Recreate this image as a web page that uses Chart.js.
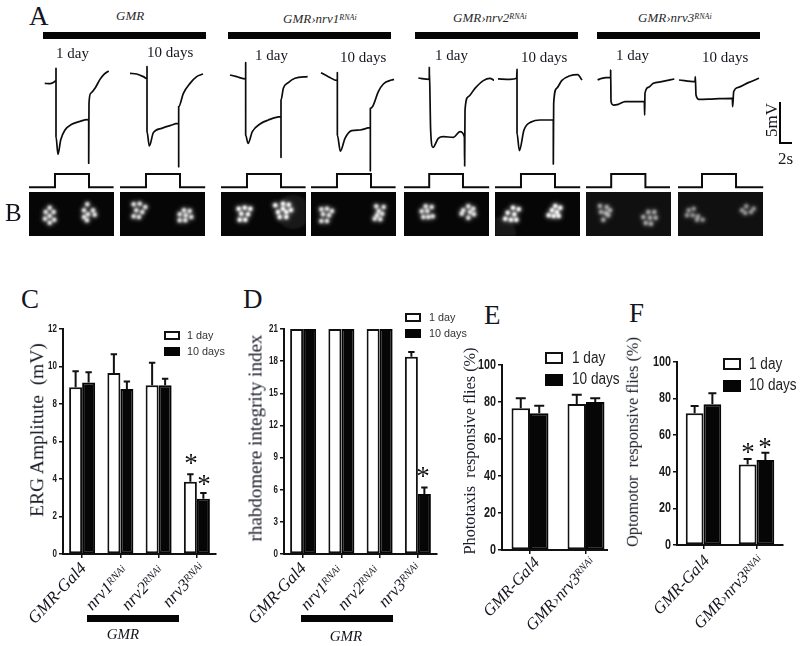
<!DOCTYPE html>
<html><head><meta charset="utf-8">
<script src="https://cdn.jsdelivr.net/npm/chart.js@4"></script>
<style>
html,body{margin:0;padding:0;background:#fff;width:800px;height:646px;overflow:hidden}
#fig{position:relative;width:800px;height:646px;overflow:hidden}
#fig canvas{position:absolute}
.t{position:absolute;white-space:pre;line-height:1;color:#15151f;font-family:"Liberation Serif",serif}
.r{position:absolute;background:#050505}
sup{font-size:.62em;vertical-align:baseline;position:relative;top:-.42em;line-height:0}
</style></head><body><div id="fig"></div>
<script>
// ---------- Panel C ----------
const catsC=["GMR-Gal4","nrv1","nrv2","nrv3"];
const ergDay1=[8.9,9.65,9.0,3.85];
const ergDay1Err=[0.85,1.0,1.2,0.4];
const ergDay10=[9.15,8.8,9.0,2.95];
const ergDay10Err=[0.55,0.4,0.35,0.3];
// ---------- Panel D ----------
const rhabDay1=[21,21,21,18.4];
const rhabDay1Err=[0,0,0,0.45];
const rhabDay10=[21,21,21,5.6];
const rhabDay10Err=[0,0,0,0.6];
// ---------- Panel E ----------
const catsE=["GMR-Gal4","GMR>nrv3"];
const photoDay1=[76.7,79];
const photoDay1Err=[5.3,5];
const photoDay10=[74,80];
const photoDay10Err=[4,2];
// ---------- Panel F ----------
const optoDay1=[72,44];
const optoDay1Err=[4,3];
const optoDay10=[77,46.4];
const optoDay10Err=[6,4];
// ---------- Panel A: ERG traces, [seconds, mV] ----------
const traceGmr1=[[2.62,-.42],[3.5,-.46],[4.17,-.25],[4.5,-.08],[4.5,1.46],[4.5,-7.08],[4.83,-9.29],[5.28,-7.5],[6,-6.25],[7.12,-5.54],[8.5,-5.17],[9.72,-4.96],[9.95,-5],[9.95,-10.4],[10,-2.92],[10.28,-1.67],[11,-1.04],[11.83,.08],[12.5,.71],[13.28,1.12]];
const traceGmr10=[[1.67,.83],[2.78,.75],[3.89,.42],[4.5,.17],[4.5,1.67],[4.5,-6.46],[4.89,-8.25],[5.56,-6.58],[6.94,-6.04],[8.33,-5.71],[9.67,-5.42],[9.78,-5.42],[9.78,-10.83],[9.78,-3.33],[10.56,-1.67],[11.67,-.42],[12.78,.42],[13.83,.75]];
const traceNrv1a=[[1.5,.63],[2.61,.42],[4.11,.13],[4.11,2.17],[4.11,-6.88],[4.5,-7.92],[5.22,-6.46],[6.5,-5.5],[7.89,-5],[9.94,-4.58],[10,-4.58],[10,-9.67],[10,-2.5],[10.39,-1.04],[11.22,-.33],[12.33,.21],[14.44,.42]];
const traceNrv1b=[[1.67,.92],[2.89,.42],[4.39,-.08],[4.39,.92],[4.39,-6.88],[4.89,-8.88],[5.67,-7.29],[6.78,-6.33],[8.17,-6.25],[9.83,-5.96],[9.89,-5.96],[9.89,-11.33],[9.89,-3.54],[10.39,-3.13],[11.22,-1.46],[12.06,-.5],[13.44,0],[13.83,.08]];
const traceNrv2a=[[2.39,.25],[4.22,.08],[4.22,1.58],[4.44,-6.25],[4.83,-8.42],[5.72,-7.29],[6.56,-7.08],[8.22,-7.17],[9.33,-6.46],[10.06,-7.08],[10.11,-10.75],[10.17,-3.75],[10.72,-2.08],[11.83,-1.04],[13.22,-.08],[14.33,.21],[15,-.05]];
const traceNrv2b=[[.5,.13],[2.5,.08],[3.61,.21],[3.67,1.33],[3.67,-6.67],[4.06,-8.83],[4.83,-6.25],[6.11,-5.21],[7.5,-5],[9.72,-5],[9.72,-10.5],[9.78,-2.92],[10.28,-1.04],[11.11,-.08],[12.5,.54],[13.78,.67],[14.5,0]];
const traceNrv3a=[[1.94,0],[2.61,.21],[4.11,.33],[4.11,1.25],[4.17,-2.71],[4.56,-3.13],[5.39,-3.04],[6.5,-2.71],[9.72,-2.67],[9.78,-4.38],[9.83,-1.67],[10.39,-.92],[11.22,-.42],[12.61,-.21],[14.72,.13]];
const traceNrv3b=[[.17,0],[2.83,-.21],[2.89,.42],[3,-1.88],[3.5,-2.42],[5.61,-2.38],[9.06,-2.29],[9.11,-3.33],[9.28,-1.46],[10.06,-.92],[11.72,-.33],[13.5,.21]];
const lightOn=[4.33,4.33,4.33,4.33,4.2,4.33,4.2,4];
const lightOff=[10,10,10,10,9.83,10,9.9,9.67];
const stimLow=-13.4, stimHigh=-11.75, stimEnd=[14.1,14.2,14.1,14.1,14.2,14.2,14,14.2];
// ---------- Panel B: ommatidia spots, [x, y] in panel units ----------
const spotsGmr1=[[20.7,15.7],[16.7,20],[24.7,20],[20.7,24],[16,26.7],[25.3,27.7],[20.7,30.7],[58.3,12.3],[55,18.3],[64,18.3],[59,22.3],[55,25],[65.7,22.7],[58,28.3]];
const spotsGmr10=[[13.7,12.3],[19.7,11.7],[25.3,15],[16.3,18.3],[22.3,20],[13.7,24.3],[19,25],[64,18.3],[69.7,19],[59.7,22.3],[65.7,23.3],[71.3,25],[59.7,28.3],[65.3,28.3]];
const spotsNrv1a=[[17.7,16.7],[23.7,15.7],[29.3,16.7],[20.3,21.7],[27,22.3],[18.7,27.7],[24.3,27.7],[54.3,13.3],[62,11.7],[67.7,12.7],[57,20],[65.3,20],[58.7,25],[65.3,25],[62,16.7],[70,18]];
const spotsNrv1b=[[10.3,17.3],[16,16.7],[21,19],[12,22.3],[18,23.3],[10.3,29],[16,29],[65.3,14.3],[72.7,15],[67.7,19],[66,23.3],[71.3,21.7],[63.7,26.7],[69.3,27.3]];
const spotsNrv2a=[[21.7,14.3],[27.7,15],[17.7,19.3],[23.3,19],[28.7,24.3],[19.3,25],[24.3,25],[64.3,14.3],[69.3,16.7],[59.3,18.3],[66,20],[57.7,21.7],[64.3,25.7],[70,22.3]];
const spotsNrv2b=[[18,15.7],[23.7,17.3],[12.7,20.7],[19.3,22.3],[10.3,26.7],[16,27.7],[21.3,27.7],[60.3,14],[65.3,15.7],[57,18.3],[62,20],[53.7,23.3],[58.7,24],[63.7,24]];
const spotsNrv3a=[[14,14],[20.7,15],[15,20],[19.7,21],[24,18.3],[17.3,27.7],[22.3,23.3],[62.3,20],[68.3,20],[57.3,25],[64,25.7],[69.7,25.7],[59.7,31],[65,31.7]];
const spotsNrv3b=[[10.7,18.3],[15.7,16.7],[9,23.3],[14.7,23.3],[20,24.3],[24.7,27.7],[19,27.7],[68.3,14.3],[73,20],[67.3,21],[64,18.3],[75.7,16.7]];
const spotLevel=[.85,.85,1,.85,.85,1,.55,.45];
const hazeNrv1a=[[72,20]];
const hazeNrv2b=[[4,42]];

const traces=[traceGmr1,traceGmr10,traceNrv1a,traceNrv1b,traceNrv2a,traceNrv2b,traceNrv3a,traceNrv3b];
const spots=[spotsGmr1,spotsGmr10,spotsNrv1a,spotsNrv1b,spotsNrv2a,spotsNrv2b,spotsNrv3a,spotsNrv3b];
const hazes=[[],[],hazeNrv1a,[],[],hazeNrv2b,[],[]];

const fig=document.getElementById('fig');
Chart.defaults.animation=false;
Chart.defaults.animations=false;
Chart.defaults.responsive=false;
Chart.defaults.devicePixelRatio=1;
Chart.defaults.plugins.legend.display=false;
Chart.defaults.plugins.tooltip.enabled=false;
Chart.defaults.events=[];

function cv(l,t,w,h,parent){const c=document.createElement('canvas');c.width=w;c.height=h;c.style.left=l+'px';c.style.top=t+'px';(parent||fig).appendChild(c);return c;}
function text(html,x,y,o={}){
  const d=document.createElement('div');d.className='t';d.innerHTML=html;
  d.style.left=x+'px';d.style.top=y+'px';
  d.style.fontSize=(o.size||14)+'px';
  if(o.italic)d.style.fontStyle='italic';
  if(o.family)d.style.fontFamily=o.family;
  if(o.color)d.style.color=o.color;
  const ax=o.anchor==='end'?'-100%':o.anchor==='middle'?'-50%':'0';
  let tf=`translate(${ax},-50%)`;
  if(o.rot){tf+=` rotate(${o.rot}deg)`;d.style.transformOrigin=o.anchor==='end'?'100% 50%':'50% 50%';}
  if(o.sx){tf+=` scaleX(${o.sx})`;d.style.transformOrigin='0 50%';}
  d.style.transform=tf;
  fig.appendChild(d);return d;
}
function rect(x,y,w,h,o={}){const d=document.createElement('div');d.className='r';d.style.cssText=`left:${x}px;top:${y}px;width:${w}px;height:${h}px;`+(o.css||'');fig.appendChild(d);return d;}

// ---- Panels A: traces + stimulus; B: spots
const panelLeft=[29,120,221,311,404,495,586,678];
traces.forEach((tr,i)=>{
  const on=lightOn[i],off=lightOff[i],end=stimEnd[i];
  const stim=[[0,stimLow],[on,stimLow],[on,stimHigh],[off,stimHigh],[off,stimLow],[end,stimLow]];
  const pad=3;
  const c=cv(panelLeft[i]-pad,55-pad,90+2*pad,140+2*pad);
  c.style.filter='blur(0.35px)';
  new Chart(c,{type:'line',
    data:{datasets:[
      {data:tr,borderColor:'#0c0c0c',borderWidth:1.7,pointRadius:0,cubicInterpolationMode:'monotone',borderJoinStyle:'round'},
      {data:stim,borderColor:'#0c0c0c',borderWidth:2,pointRadius:0,tension:0}
    ]},
    options:{layout:{padding:pad},scales:{
      x:{type:'linear',display:false,min:0,max:15},
      y:{type:'linear',display:false,min:-14.375,max:3.125}}}});
});
spots.forEach((sp,i)=>{
  const pad=20;
  const box=rect(panelLeft[i],192,85,44,{css:`overflow:hidden;background:${i>=6?'#101010':'#060606'}`});
  const c=cv(-pad,-pad,85+2*pad,44+2*pad,box);
  c.style.filter='blur(0.8px)';
  const lv=spotLevel[i];
  new Chart(c,{type:'scatter',
    data:{datasets:[
      {data:sp,pointRadius:2.2,pointBackgroundColor:`rgba(255,255,255,${lv})`,pointBorderWidth:0},
      {data:sp,pointRadius:3.8,pointBackgroundColor:`rgba(190,190,190,${.3*lv})`,pointBorderWidth:0},
      {data:sp,pointRadius:6.5,pointBackgroundColor:`rgba(170,170,170,${.07*lv})`,pointBorderWidth:0},
      {data:hazes[i],pointRadius:17,pointBackgroundColor:'rgba(150,150,150,.13)',pointBorderWidth:0}
    ]},
    options:{layout:{padding:pad},scales:{
      x:{type:'linear',display:false,min:0,max:85},
      y:{type:'linear',display:false,min:0,max:44,reverse:true}}}});
});

// ---- Bar charts
const errorBars={id:'errorBars',afterDatasetsDraw(chart,args,opts){
  const {ctx}=chart,yS=chart.scales.y;
  ctx.save();ctx.strokeStyle='#111';ctx.lineWidth=2;
  chart.data.datasets.forEach((ds,i)=>{
    const m=chart.getDatasetMeta(i);
    ds.errors.forEach((e,j)=>{
      if(!e)return;
      const x=m.data[j].x,y0=yS.getPixelForValue(ds.data[j]),y1=yS.getPixelForValue(ds.data[j]+e);
      ctx.beginPath();ctx.moveTo(x,y0);ctx.lineTo(x,y1);
      ctx.moveTo(x-opts.cap,y1);ctx.lineTo(x+opts.cap,y1);ctx.stroke();
    });
  });
  if(opts.axisEnd){const a=chart.chartArea;ctx.beginPath();ctx.moveTo(a.left-1,a.bottom);ctx.lineTo(opts.axisEnd-chart.canvas.offsetLeft,a.bottom);ctx.stroke();}
  // condensed bold y tick labels, taken from the scale's own ticks
  ctx.fillStyle='#1a1a1a';ctx.textAlign='right';ctx.textBaseline='middle';
  ctx.font=`bold ${opts.tick}px "Liberation Sans",sans-serif`;
  yS.ticks.forEach((t,k)=>{
    ctx.save();ctx.translate(yS.right-6,yS.getPixelForTick(k));ctx.scale(.8,1.02);
    ctx.fillText(String(t.value),0,0);ctx.restore();
  });
  ctx.restore();
}};
function barChart(b){
  const L=b.left-42,T=b.top-10,W=b.right-L+2,H=b.bottom-T+10;
  new Chart(cv(L,T,W,H),{type:'bar',plugins:[errorBars],
    data:{labels:b.cats,datasets:[
      {data:b.a,errors:b.ae,backgroundColor:'#fff',borderColor:'#111',borderWidth:2,borderSkipped:false},
      {data:b.b,errors:b.be,backgroundColor:'#060606',borderColor:'#060606',borderWidth:2,borderSkipped:false}
    ]},
    options:{
      layout:{padding:{top:10,right:2,left:0,bottom:0}},
      datasets:{bar:{categoryPercentage:b.cp,barPercentage:1}},
      plugins:{errorBars:{cap:b.cap,axisEnd:b.axisEnd,tick:b.tick}},
      scales:{
        x:{type:'category',
          border:{display:!b.axisEnd,color:'#111',width:2},
          grid:{offset:false,drawOnChartArea:false,drawTicks:true,tickLength:4,color:'#111',lineWidth:1.5},
          ticks:{callback:()=>'',padding:0},
          afterFit(s){s.height=10;}},
        y:{type:'linear',min:0,max:b.max,
          border:{color:'#111',width:2},
          grid:{drawOnChartArea:false,drawTicks:true,tickLength:4,color:'#111',lineWidth:1.5},
          ticks:{stepSize:b.step,autoSkip:false,color:'rgba(0,0,0,0)',font:{size:b.tick}},
          afterFit(s){s.width=42;}}
      }}});
}
barChart({left:63,right:216,top:329,bottom:554,cats:catsC,a:ergDay1,ae:ergDay1Err,b:ergDay10,be:ergDay10Err,max:12,step:2,cp:.68,cap:3.2,tick:10});
barChart({left:284,right:437,top:329,bottom:554,cats:catsC,a:rhabDay1,ae:rhabDay1Err,b:rhabDay10,be:rhabDay10Err,max:21,step:3,cp:.68,cap:3.2,tick:10});
barChart({left:502,right:614,top:364,bottom:551,cats:catsE,a:photoDay1,ae:photoDay1Err,b:photoDay10,be:photoDay10Err,max:100,step:20,cp:.66,cap:5,tick:13.5,axisEnd:608});
barChart({left:677,right:783,top:361,bottom:546,cats:catsE,a:optoDay1,ae:optoDay1Err,b:optoDay10,be:optoDay10Err,max:100,step:20,cp:.67,cap:4,tick:13.5});

// ---- Annotations
[[43,163],[228,163],[415,163],[597,163]].forEach(([x,w])=>rect(x,32,w,7));
rect(87,615,92,7);rect(301,615,92,7);
const rna=n=>`GMR›nrv${n}<sup>RNAi</sup>`;
const hdr={size:13,italic:true,color:'#2a2a2a'};
text('GMR',116,15,hdr);
text(rna(1),283,18,hdr);
text(rna(2),453,17,hdr);
text(rna(3),638,17,hdr);
[[56,53,'1 day'],[147,52,'10 days'],[255,55,'1 day'],[340,57,'10 days'],[435,55,'1 day'],[521,57,'10 days'],[616,55,'1 day'],[702,57,'10 days']]
 .forEach(([x,y,s])=>text(s,x,y,{size:15}));
[['A',29,16,27],['B',5,212,25],['C',21,299,27],['D',243,299,27],['E',484,315,27],['F',629,313,27]]
 .forEach(([s,x,y,z])=>text(s,x,y,{size:z}));
// scale bar
rect(779,102,2,42);rect(779,142,13,2);
text('5mV',771,120,{size:17,anchor:'middle',rot:-90});
text('2s',778,158,{size:17});
// axis titles
const axc='#1a1d28';
text('ERG Amplitute  (mV)',37,430,{size:19.5,anchor:'middle',rot:-90,color:axc});
text('rhabdomere integrity index',255,438,{size:19,anchor:'middle',rot:-90,color:axc});
text('Phototaxis  responsive flies (%)',470,451,{size:16.3,anchor:'middle',rot:-90,color:axc});
text('Optomotor  responsive flies (%)',633,442,{size:16.3,anchor:'middle',rot:-90,color:axc});
// rotated category labels
const nrv=n=>`nrv${n}<sup>RNAi</sup>`;
[['GMR-Gal4',83,565],[nrv(1),125,568],[nrv(2),161,568],[nrv(3),202,565],
 ['GMR-Gal4',303,565],[nrv(1),340,568],[nrv(2),377,568],[nrv(3),418,565]]
 .forEach(([s,x,y])=>text(s,x,y,{size:17,italic:true,anchor:'end',rot:-47}));
[['GMR-Gal4',537,560],[rna(3),593,560],['GMR-Gal4',707,558],[rna(3),761,558]]
 .forEach(([s,x,y])=>text(s,x,y,{size:16.5,italic:true,anchor:'end',rot:-47}));
text('GMR',123,634,{size:15,italic:true,anchor:'middle'});
text('GMR',346,636,{size:15,italic:true,anchor:'middle'});
// significance stars
[[191,463],[204,484],[423,476],[748,452],[765,447]].forEach(([x,y])=>text('*',x,y,{size:27,anchor:'middle',color:'#111'}));
// legends
function legend(x,y1,y2,bw,bh,tx,ty1,ty2,fs,sx,col){
  const a=document.createElement('div');a.style.cssText=`position:absolute;left:${x}px;top:${y1}px;width:${bw-4}px;height:${bh-4}px;border:2px solid #111;background:#fff`;fig.appendChild(a);
  rect(x,y2,bw,bh);
  const sans='"Liberation Sans",sans-serif';
  text('1 day',tx,ty1,{size:fs,family:sans,color:col,sx});
  text('10 days',tx,ty2,{size:fs,family:sans,color:col,sx});
}
legend(164,331,347,16,9,187,335,351,10.8,1,'#333');
legend(405,313,329,16,9,429,317,333,10.8,1,'#333');
legend(545,352,374,18,12,572,358,379,16,.85,'#222');
legend(723,358,380,18,12,749,364,385,16,.85,'#222');
</script></body></html>
